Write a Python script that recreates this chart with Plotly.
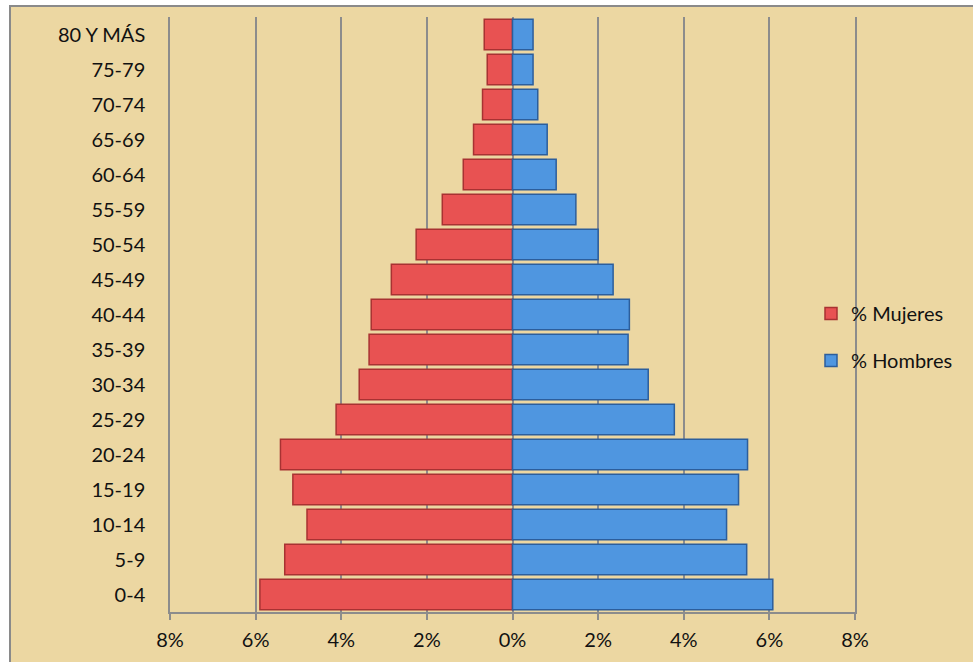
import plotly.graph_objects as go

categories = ["0-4", "5-9", "10-14", "15-19", "20-24", "25-29", "30-34", "35-39",
              "40-44", "45-49", "50-54", "55-59", "60-64", "65-69", "70-74", "75-79", "80 Y MÁS"]
mujeres = [5.90, 5.32, 4.80, 5.13, 5.42, 4.12, 3.58, 3.35, 3.30, 2.83, 2.25, 1.64, 1.15, 0.91, 0.70, 0.59, 0.66]
hombres = [6.08, 5.47, 5.00, 5.28, 5.49, 3.78, 3.17, 2.70, 2.73, 2.35, 2.00, 1.48, 1.02, 0.81, 0.59, 0.48, 0.48]
tick_vals = [-8, -6, -4, -2, 0, 2, 4, 6, 8]
tick_text = ["8%", "6%", "4%", "2%", "0%", "2%", "4%", "6%", "8%"]

FONT = "Lato, Open Sans, sans-serif"
FS = 20

fig = go.Figure()
fig.add_trace(go.Bar(
    y=categories, x=[-v for v in mujeres], orientation="h", name="% Mujeres",
    marker=dict(color="#E85252", line=dict(color="#A83232", width=1.5)),
    legendgroup="m", hoverinfo="skip",
))
fig.add_trace(go.Bar(
    y=categories, x=hombres, orientation="h", name="% Hombres",
    marker=dict(color="#4F96E0", line=dict(color="#2C5E9C", width=1.5)),
    legendgroup="h", hoverinfo="skip",
))

# plot area (screen px): x 170..855, y 17..612
L, R, T, B = 170, 855, 17, 612
W, H = R - L, B - T
def px(x):
    return (x - L) / W
def py(y):
    return (B - y) / H

shapes = [
    dict(type="rect", xref="paper", yref="paper", x0=px(0), x1=px(973), y0=py(5), y1=py(0),
         fillcolor="white", line=dict(width=0), layer="below"),
    dict(type="rect", xref="paper", yref="paper", x0=px(0), x1=px(9), y0=py(662), y1=py(0),
         fillcolor="white", line=dict(width=0), layer="below"),
    dict(type="line", xref="paper", yref="paper", x0=px(9), x1=px(973), y0=py(6), y1=py(6),
         line=dict(color="#8A8A8A", width=2)),
    dict(type="line", xref="paper", yref="paper", x0=px(10), x1=px(10), y0=py(5), y1=py(662),
         line=dict(color="#8A8A8A", width=2)),
]

fig.update_layout(
    width=973, height=662,
    margin=dict(l=L, r=973 - R, t=T, b=662 - B),
    paper_bgcolor="#ECD7A2",
    plot_bgcolor="rgba(0,0,0,0)",
    barmode="overlay",
    bargap=0.13,
    font=dict(family=FONT, size=FS, color="#111111"),
    shapes=shapes,
    showlegend=True,
    legend=dict(
        x=px(811), y=py(294), xanchor="left", yanchor="top",
        bgcolor="rgba(0,0,0,0)", font=dict(family=FONT, size=FS, color="#111111"),
        tracegroupgap=18,
    ),
    xaxis=dict(
        range=[-8, 8], tickvals=tick_vals, ticktext=tick_text,
        showgrid=True, gridcolor="#8C8C8C", gridwidth=1.5,
        zeroline=True, zerolinecolor="#8C8C8C", zerolinewidth=2,
        showline=True, linecolor="#8C8C8C", linewidth=1.5,
        ticks="outside", ticklen=6, tickcolor="#8C8C8C", tickwidth=1.5,
        ticklabelstandoff=3,
        tickfont=dict(family=FONT, size=FS, color="#111111"),
        fixedrange=True,
    ),
    yaxis=dict(
        categoryorder="array", categoryarray=categories,
        showgrid=False, zeroline=False,
        showline=True, mirror=True, linecolor="#8C8C8C", linewidth=1.5,
        ticks="", ticklabelstandoff=19,
        tickfont=dict(family=FONT, size=FS, color="#111111"),
        fixedrange=True,
    ),
)

fig.write_html("out.html", post_script="document.body.style.margin='0';",
               config={"displayModeBar": False})
